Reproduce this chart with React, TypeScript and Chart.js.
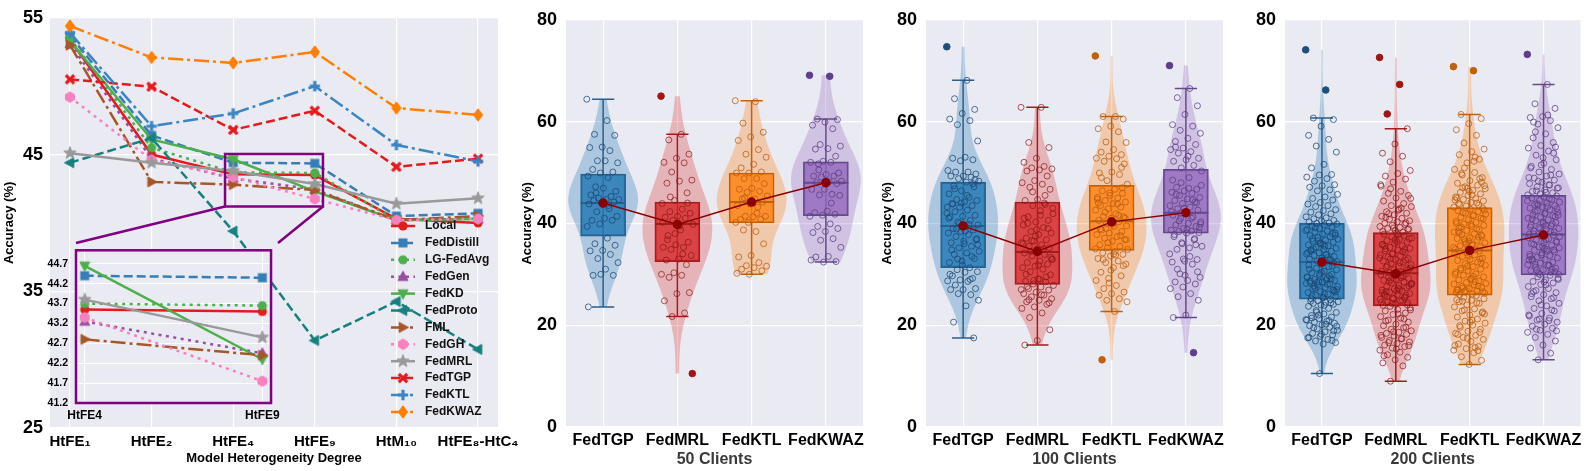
import React, { useEffect, useRef } from "react";
import { Chart, registerables } from "chart.js";

Chart.register(...registerables);

const FONT = '"Liberation Sans", Arial, Helvetica, sans-serif';
Chart.defaults.font.family = FONT;
Chart.defaults.color = "#000";

const BG = "#EAEAF2";
const GRID = "#FFFFFF";
const PURPLE = "#800080";

// ---------------- Panel 1 data ----------------
const HT_LABELS = ["HtFE₁", "HtFE₂", "HtFE₄", "HtFE₉", "HtM₁₀", "HtFE₈-HtC₄"];
const METHODS = ["Local", "FedDistill", "LG-FedAvg", "FedGen", "FedKD", "FedProto", "FML", "FedGH", "FedMRL", "FedTGP", "FedKTL", "FedKWAZ"];
const ACC_LOCAL = [53.4, 45.0, 43.55, 43.5, 40.3, 40.0];
const ACC_FEDDISTILL = [53.7, 46.4, 44.4, 44.35, 40.5, 40.7];
const ACC_LGFEDAVG = [53.5, 45.5, 43.7, 43.65, 40.2, 40.3];
const ACC_FEDGEN = [53.1, 44.7, 43.25, 42.45, 40.2, 40.3];
const ACC_FEDKD = [53.3, 46.1, 44.65, 42.3, 40.2, 40.3];
const ACC_FEDPROTO = [44.4, 46.2, 39.4, 31.4, 34.25, 30.75];
const ACC_FML = [53.0, 43.0, 42.8, 42.4, 40.2, 40.5];
const ACC_FEDGH = [49.2, 44.6, 43.35, 41.75, 40.2, 40.3];
const ACC_FEDMRL = [45.1, 44.4, 43.8, 42.85, 41.4, 41.8];
const ACC_FEDTGP = [50.5, 49.96, 46.8, 48.2, 44.1, 44.7];
const ACC_FEDKTL = [53.9, 47.07, 48.0, 50.0, 45.7, 44.5];
const ACC_FEDKWAZ = [54.4, 52.1, 51.7, 52.5, 48.4, 47.9];
const SERIES = [ACC_LOCAL, ACC_FEDDISTILL, ACC_LGFEDAVG, ACC_FEDGEN, ACC_FEDKD, ACC_FEDPROTO, ACC_FML, ACC_FEDGH, ACC_FEDMRL, ACC_FEDTGP, ACC_FEDKTL, ACC_FEDKWAZ];
const MAIN_Y_TICKS = [25, 35, 45, 55];

const INSET_X_LABELS = ["HtFE4", "HtFE9"];
const INSET_X_INDEX = [2, 3];
const INSET_Y_TICKS = [41.2, 41.7, 42.2, 42.7, 43.2, 43.7, 44.2, 44.7];
const INSET_Y_RANGE = [41.2, 45.04];
const ZOOM_X_RANGE = [1.9, 3.1];

// ---------------- Panels 2-4 data ----------------
const BOX_METHODS = ["FedTGP", "FedMRL", "FedKTL", "FedKWAZ"];

const C50_FEDTGP = [64.4, 60.2, 57.5, 57.3, 55.0, 54.9, 54.3, 52.3, 51.9, 52.3, 50.6, 50.1, 49.9, 49.3, 49.0, 47.2, 46.3, 46.9, 45.6, 45.3, 45.0, 44.7, 44.7, 44.5, 44.2, 44.0, 43.8, 42.9, 42.3, 41.4, 41.0, 40.6, 40.6, 39.9, 39.4, 37.1, 36.0, 35.7, 34.7, 34.6, 33.9, 33.1, 32.3, 31.0, 29.8, 29.8, 30.0, 23.6, 43.5, 46.0];
const C50_FEDMRL = [65.0, 57.5, 56.4, 53.6, 52.8, 52.0, 51.9, 50.1, 48.5, 48.3, 47.9, 46.0, 44.5, 43.9, 42.8, 42.3, 42.0, 41.4, 41.2, 41.0, 40.6, 39.8, 38.7, 37.6, 36.3, 35.8, 35.3, 35.3, 34.9, 33.7, 33.0, 32.8, 31.9, 30.3, 30.0, 29.8, 29.4, 26.4, 26.2, 24.8, 22.4, 21.7, 10.5, 39.5, 36.8, 44.0, 38.0, 40.2, 34.0, 45.2];
const C50_FEDKTL = [64.1, 63.9, 59.7, 57.9, 57.0, 56.3, 54.5, 53.6, 53.0, 51.6, 50.9, 50.1, 49.9, 49.9, 48.8, 48.8, 47.8, 46.9, 46.7, 46.3, 46.1, 45.4, 44.8, 44.8, 44.2, 43.8, 43.5, 43.2, 41.4, 41.4, 41.3, 40.8, 40.8, 40.2, 40.2, 38.4, 38.7, 36.0, 33.7, 33.4, 32.3, 31.7, 31.6, 31.3, 31.0, 30.7, 30.0, 30.2, 42.0, 45.0];
const C50_FEDKWAZ = [69.1, 68.9, 60.5, 60.4, 59.9, 59.3, 58.6, 55.5, 55.2, 54.7, 54.6, 53.2, 52.2, 52.0, 52.0, 51.7, 49.9, 49.6, 49.3, 49.3, 49.1, 48.3, 48.2, 48.0, 47.8, 46.7, 46.7, 45.7, 45.6, 45.5, 42.4, 42.1, 41.8, 41.6, 41.4, 39.9, 39.4, 39.0, 38.4, 38.2, 37.0, 36.7, 35.3, 33.5, 33.4, 32.5, 32.4, 32.8, 44.0, 50.5];
const C50_Q1 = [37.5, 32.5, 40.1, 41.5];
const C50_MEDIAN = [44.0, 39.9, 44.2, 48.0];
const C50_Q3 = [49.7, 44.2, 49.9, 52.1];
const C50_MEAN = [44.0, 39.8, 44.2, 48.0];

const C100_FEDTGP = [74.7, 68.1, 64.5, 62.4, 61.6, 60.5, 60.2, 59.4, 56.2, 53.0, 52.8, 52.5, 52.3, 50.4, 50.1, 50.1, 49.7, 49.3, 49.3, 49.1, 48.8, 48.3, 48.1, 47.4, 47.2, 46.4, 45.8, 45.1, 44.7, 44.5, 44.2, 43.9, 43.5, 43.2, 43.2, 42.6, 42.3, 41.6, 41.4, 41.3, 40.6, 40.3, 39.7, 39.4, 39.0, 38.7, 38.4, 38.1, 37.8, 37.4, 36.8, 36.5, 36.2, 35.5, 35.2, 34.5, 34.2, 33.9, 33.1, 32.6, 32.3, 31.3, 30.9, 30.5, 30.4, 29.7, 29.2, 28.9, 28.7, 28.6, 27.9, 27.2, 27.0, 27.0, 26.0, 26.2, 24.9, 23.8, 20.6, 17.5, 44.0, 41.0, 39.8, 38.9, 37.0, 36.0, 34.8, 33.5, 40.0, 42.0, 45.5, 46.8, 48.6, 31.8, 30.0, 29.0, 33.0, 35.8, 38.5, 43.8, 47.8];
const C100_FEDMRL = [62.8, 62.8, 55.9, 54.9, 52.8, 52.0, 51.2, 50.9, 50.7, 50.5, 50.3, 49.3, 48.4, 48.0, 47.7, 47.1, 46.7, 44.7, 44.5, 43.7, 43.5, 41.9, 41.6, 41.3, 40.6, 40.3, 39.7, 39.2, 38.4, 38.1, 37.8, 37.1, 36.8, 36.5, 36.2, 35.8, 35.5, 35.2, 34.9, 34.2, 33.9, 33.6, 32.9, 32.6, 32.3, 32.0, 31.6, 31.3, 31.0, 30.5, 29.9, 29.1, 28.6, 28.5, 28.1, 27.8, 27.5, 27.2, 26.9, 26.5, 26.2, 25.9, 25.6, 25.2, 24.9, 24.6, 24.1, 23.6, 23.3, 22.4, 21.5, 19.1, 17.0, 16.1, 45.5, 46.2, 43.0, 42.5, 40.0, 39.0, 37.5, 36.0, 35.0, 34.5, 33.3, 31.8, 30.0, 29.5, 28.8, 27.0, 26.0, 25.0, 24.4, 38.8, 41.0, 44.0, 36.6, 33.0, 29.0, 27.6];
const C100_FEDKTL = [72.9, 61.0, 61.0, 60.5, 59.1, 58.6, 58.0, 56.0, 55.9, 54.5, 54.0, 53.5, 53.2, 52.8, 52.7, 52.2, 51.7, 50.1, 49.9, 49.6, 48.4, 47.7, 46.7, 46.4, 45.9, 45.5, 45.1, 45.0, 44.5, 44.2, 43.9, 43.5, 43.2, 42.9, 42.6, 41.9, 41.4, 41.3, 41.0, 40.6, 40.3, 40.0, 39.5, 39.4, 38.7, 38.4, 38.1, 37.8, 37.4, 37.1, 36.8, 36.5, 35.8, 35.5, 35.2, 34.9, 34.5, 34.2, 33.9, 33.6, 33.1, 32.6, 32.3, 32.0, 31.3, 30.4, 29.7, 29.2, 28.8, 27.8, 27.2, 26.5, 26.2, 25.9, 25.2, 24.9, 24.6, 22.7, 13.2, 47.0, 46.0, 44.8, 43.8, 42.2, 41.0, 39.8, 38.9, 37.6, 36.2, 35.0, 33.8, 32.9, 31.7, 30.8, 44.0, 41.6, 39.0, 36.8, 34.0, 49.0, 51.0, 28.3];
const C100_FEDKWAZ = [71.0, 66.5, 64.7, 63.1, 61.4, 59.4, 59.1, 58.3, 57.7, 56.7, 56.1, 55.5, 54.8, 54.5, 54.1, 53.8, 52.8, 52.5, 52.2, 51.4, 50.9, 50.3, 49.0, 47.1, 46.7, 46.4, 46.1, 45.9, 45.5, 45.1, 44.8, 44.5, 44.2, 43.9, 43.5, 43.2, 42.9, 42.6, 41.9, 41.6, 41.3, 41.0, 40.3, 40.0, 39.7, 39.4, 39.0, 38.7, 38.5, 38.4, 38.2, 38.1, 37.4, 36.8, 36.2, 35.5, 35.2, 34.9, 32.9, 32.6, 32.4, 32.0, 30.1, 29.4, 28.8, 28.5, 28.1, 27.5, 27.2, 26.2, 25.6, 24.9, 22.0, 21.5, 14.6, 48.0, 47.5, 46.9, 45.7, 44.0, 43.0, 42.3, 41.0, 40.5, 39.2, 38.8, 37.8, 37.0, 36.0, 34.0, 33.5, 31.0, 30.5, 29.8, 48.5, 44.6, 42.0, 39.9, 53.2, 55.0, 35.8, 33.0];
const C100_Q1 = [31.3, 28.0, 34.7, 38.1];
const C100_MEDIAN = [39.5, 34.4, 40.4, 42.1];
const C100_Q3 = [48.1, 44.2, 47.5, 50.6];
const C100_MEAN = [39.5, 34.5, 40.3, 42.1];

const C200_FEDTGP = [74.1, 66.2, 60.7, 60.4, 59.1, 57.3, 56.5, 55.2, 54.0, 51.6, 50.9, 49.6, 49.5, 49.1, 48.8, 48.3, 47.6, 47.4, 47.1, 46.6, 46.4, 45.7, 45.2, 44.9, 44.6, 44.1, 43.8, 43.5, 43.3, 42.7, 42.5, 42.2, 41.9, 41.7, 41.3, 41.1, 40.9, 40.6, 40.5, 40.3, 40.1, 40.0, 39.9, 39.7, 39.5, 39.3, 39.0, 38.8, 38.5, 38.3, 38.1, 37.9, 37.6, 37.4, 37.2, 36.9, 36.7, 36.5, 36.3, 36.0, 35.8, 35.6, 35.3, 35.1, 34.9, 34.8, 34.5, 34.2, 34.0, 33.9, 33.7, 33.5, 33.2, 33.0, 32.8, 32.6, 32.5, 35.5, 37.0, 38.0, 36.1, 34.3, 33.3, 39.1, 37.7, 35.9, 34.6, 32.9, 36.6, 38.6, 33.8, 35.0, 32.3, 32.0, 31.8, 31.5, 31.2, 30.9, 30.6, 30.3, 30.0, 29.8, 29.5, 29.3, 29.0, 28.8, 28.5, 28.3, 28.1, 27.9, 27.6, 27.4, 27.2, 26.9, 26.6, 26.4, 26.1, 25.9, 25.6, 25.4, 25.2, 29.1, 28.6, 28.2, 28.9, 27.7, 26.8, 30.4, 31.0, 29.7, 28.4, 27.0, 26.2, 25.8, 31.6, 30.1, 29.4, 28.0, 27.3, 26.5, 25.5, 28.7, 25.0, 24.8, 24.6, 24.5, 24.3, 24.1, 24.0, 23.7, 23.3, 22.9, 22.5, 22.2, 21.9, 21.6, 21.3, 21.0, 20.8, 20.6, 20.4, 20.1, 19.9, 19.6, 19.3, 19.0, 18.7, 18.4, 18.1, 17.8, 17.5, 17.2, 16.9, 16.6, 16.3, 24.7, 24.4, 22.0, 21.1, 20.2, 19.5, 18.9, 18.2, 17.6, 20.9, 22.6, 19.8, 23.9, 21.4, 17.0, 10.5];
const C200_FEDMRL = [72.6, 67.3, 61.5, 58.6, 55.6, 53.8, 53.2, 52.1, 50.4, 49.8, 49.3, 48.7, 48.1, 47.6, 46.3, 45.9, 45.5, 45.0, 44.4, 43.9, 43.5, 43.3, 42.8, 42.3, 42.0, 41.7, 41.4, 41.0, 40.8, 40.5, 40.3, 40.0, 39.8, 39.6, 39.4, 39.2, 39.0, 38.8, 38.6, 38.4, 38.3, 46.8, 44.9, 42.6, 41.2, 40.1, 39.1, 47.3, 43.0, 41.9, 38.9, 38.1, 37.9, 37.6, 37.4, 37.1, 36.9, 36.6, 36.3, 36.1, 35.8, 35.6, 35.3, 35.1, 34.8, 34.6, 34.3, 34.1, 33.8, 33.6, 33.4, 33.1, 32.9, 32.6, 32.4, 32.1, 31.9, 31.6, 31.4, 31.1, 30.9, 30.6, 30.4, 30.3, 37.0, 36.4, 35.5, 34.9, 34.0, 33.2, 32.3, 31.7, 30.8, 36.8, 35.9, 34.4, 33.0, 31.2, 37.8, 35.0, 32.8, 30.1, 29.9, 29.7, 29.4, 29.2, 29.0, 28.8, 28.5, 28.3, 28.1, 27.8, 27.6, 27.4, 27.1, 26.9, 26.7, 26.5, 26.2, 26.0, 25.8, 25.5, 25.3, 25.1, 24.8, 24.6, 24.4, 24.1, 23.9, 29.6, 28.9, 28.0, 27.3, 26.6, 25.9, 25.2, 24.5, 29.3, 28.6, 27.7, 26.8, 26.1, 25.4, 24.3, 28.2, 27.0, 25.6, 24.0, 29.8, 26.4, 24.9, 23.7, 23.4, 23.1, 22.8, 22.4, 22.1, 21.7, 21.4, 21.0, 20.6, 20.2, 19.9, 19.5, 19.2, 18.9, 18.6, 18.4, 18.2, 17.9, 17.6, 17.3, 17.0, 16.7, 16.4, 16.1, 15.8, 15.5, 15.1, 14.7, 14.2, 13.7, 13.2, 12.6, 12.0, 9.0, 23.0, 22.2, 20.8, 19.6, 18.7, 18.0, 17.4, 16.6, 16.0, 15.3, 14.0, 21.2];
const C200_FEDKTL = [70.8, 70.0, 61.4, 60.6, 59.6, 58.4, 57.3, 55.8, 54.6, 54.1, 53.5, 52.6, 51.9, 50.6, 50.0, 49.5, 49.0, 48.4, 47.9, 47.5, 47.2, 46.8, 46.5, 46.1, 45.8, 45.5, 45.2, 44.9, 44.7, 44.4, 44.1, 43.9, 43.6, 43.4, 43.2, 52.2, 49.8, 48.1, 46.3, 45.0, 44.0, 50.9, 47.4, 45.6, 43.7, 48.8, 46.9, 44.6, 53.0, 47.0, 43.0, 42.8, 42.5, 42.3, 42.0, 41.8, 41.5, 41.2, 41.0, 40.7, 40.4, 40.2, 39.9, 39.6, 39.4, 39.1, 38.8, 38.6, 38.3, 38.0, 37.8, 37.5, 37.2, 37.0, 36.7, 36.4, 36.2, 35.9, 35.6, 35.4, 35.1, 34.9, 34.8, 42.1, 40.9, 39.8, 38.4, 37.3, 36.0, 35.3, 41.6, 39.3, 37.7, 36.5, 40.0, 38.9, 36.9, 42.6, 35.7, 38.2, 34.6, 34.3, 34.0, 33.8, 33.5, 33.2, 32.9, 32.7, 32.4, 32.1, 31.8, 31.5, 31.2, 31.0, 30.7, 30.4, 30.1, 29.8, 29.5, 29.2, 28.9, 28.7, 28.4, 28.1, 27.9, 27.6, 27.4, 27.2, 26.9, 26.7, 26.5, 26.3, 26.1, 26.0, 33.0, 31.6, 30.0, 28.5, 27.3, 26.6, 29.0, 27.0, 27.7, 26.8, 28.2, 29.6, 30.9, 32.2, 33.6, 26.4, 25.8, 25.5, 25.2, 24.9, 24.6, 24.3, 24.0, 23.6, 23.2, 22.8, 22.4, 22.0, 21.6, 21.2, 20.8, 20.4, 20.0, 19.6, 19.2, 18.8, 18.4, 18.0, 17.6, 17.2, 16.8, 16.3, 15.8, 15.4, 15.1, 14.6, 13.8, 13.1, 12.3, 25.0, 24.4, 23.0, 22.2, 21.0, 19.9, 18.6, 17.4, 16.0, 15.6, 24.7, 22.6, 20.6, 18.2, 15.0];
const C200_FEDKWAZ = [73.2, 67.3, 63.5, 62.6, 61.0, 60.8, 60.2, 59.5, 58.8, 57.6, 56.8, 55.9, 55.3, 54.8, 54.2, 53.4, 52.5, 51.8, 51.2, 50.6, 50.1, 49.7, 49.3, 48.9, 48.5, 48.1, 47.8, 47.5, 47.2, 46.9, 46.6, 46.3, 46.0, 45.8, 45.6, 61.3, 58.0, 55.0, 52.9, 50.9, 49.5, 48.3, 47.0, 46.1, 59.9, 53.8, 51.5, 49.0, 47.6, 46.4, 45.4, 45.2, 45.0, 44.7, 44.5, 44.2, 44.0, 43.7, 43.5, 43.2, 43.0, 42.7, 42.5, 42.2, 42.0, 41.7, 41.5, 41.2, 41.0, 40.7, 40.5, 40.2, 40.0, 39.7, 39.5, 39.2, 39.0, 38.8, 38.5, 38.3, 38.1, 37.9, 44.8, 43.9, 42.9, 41.9, 40.9, 39.9, 38.9, 44.4, 43.3, 42.3, 41.3, 40.3, 39.3, 38.4, 43.6, 41.6, 39.6, 37.95, 37.7, 37.5, 37.2, 37.0, 36.7, 36.5, 36.2, 36.0, 35.7, 35.4, 35.2, 34.9, 34.7, 34.4, 34.2, 33.9, 33.7, 33.4, 33.2, 32.9, 32.7, 32.4, 32.2, 31.9, 31.7, 31.4, 31.2, 30.9, 30.7, 30.4, 30.2, 30.0, 36.8, 35.9, 34.8, 33.8, 32.8, 31.8, 30.8, 36.3, 35.0, 33.0, 31.0, 29.95, 37.4, 34.5, 32.0, 30.5, 35.5, 33.5, 29.8, 29.5, 29.2, 28.9, 28.6, 28.3, 28.0, 27.6, 27.2, 26.8, 26.4, 26.0, 25.6, 25.2, 24.8, 24.3, 23.8, 23.3, 22.8, 22.3, 21.8, 21.4, 21.0, 20.6, 20.2, 19.8, 19.4, 19.0, 18.6, 18.2, 17.6, 16.9, 16.1, 15.5, 14.5, 13.2, 29.0, 27.9, 26.6, 25.4, 24.0, 22.0, 20.9, 19.2, 18.9, 28.5, 26.2, 23.0, 21.2];
const C200_Q1 = [25.1, 23.8, 25.9, 29.9];
const C200_MEDIAN = [32.4, 30.2, 34.7, 37.8];
const C200_Q3 = [40.0, 38.2, 43.1, 45.5];
const C200_MEAN = [32.4, 30.1, 34.7, 37.7];

// ---------------- Styles ----------------
const LINE_COLORS = ["#e41a1c", "#377eb8", "#4daf4a", "#984ea3", "#4daf4a", "#17807e", "#a65628", "#f781bf", "#999999", "#e41a1c", "#3a85c3", "#ff7f00"];
const DASHED = [9, 4];
const DOTTED = [3, 4.5];
const DASHDOT = [15, 4, 3, 4];
const LINE_DASHES = [[], DASHED, DOTTED, DOTTED, [], DASHED, DASHDOT, DOTTED, [], DASHED, DASHDOT, DASHDOT];
const LINE_MARKERS = ["circle", "square", "circle", "tri_up", "tri_down", "tri_left", "tri_right", "hexagon", "star", "x", "plus", "diamond"];

const BOX_FILL = ["rgba(31,119,180,0.8)", "rgba(214,39,40,0.8)", "rgba(255,127,14,0.8)", "rgba(148,103,189,0.8)"];
const VIOLIN_FILL = ["rgba(31,119,180,0.3)", "rgba(214,39,40,0.28)", "rgba(255,127,14,0.3)", "rgba(148,103,189,0.3)"];
const EDGE = ["#2b5f8c", "#a11d1e", "#bf6210", "#65498c"];
const PT_EDGE = ["rgba(25,70,115,0.75)", "rgba(140,20,20,0.7)", "rgba(185,90,10,0.75)", "rgba(90,60,130,0.75)"];
const OUT_FILL = ["#1f4e79", "#a01515", "#c0600a", "#5e3f8c"];
const MEAN_COLOR = "#8b0000";

function makeMarker(shape: string, color: string): HTMLCanvasElement {
  const s = 16;
  const c = document.createElement("canvas");
  c.width = s;
  c.height = s;
  const g = c.getContext("2d") as CanvasRenderingContext2D;
  g.translate(s / 2, s / 2);
  g.fillStyle = color;
  g.strokeStyle = color;
  g.lineWidth = 1;
  const poly = (pts: number[][]) => {
    g.beginPath();
    pts.forEach(([x, y], i) => (i ? g.lineTo(x, y) : g.moveTo(x, y)));
    g.closePath();
    g.fill();
    g.stroke();
  };
  const ring = (n: number, r: number, rot: number) => {
    const pts: number[][] = [];
    for (let k = 0; k < n; k++) {
      const a = rot + (k * 2 * Math.PI) / n;
      pts.push([r * Math.cos(a), r * Math.sin(a)]);
    }
    return pts;
  };
  switch (shape) {
    case "circle":
      g.beginPath();
      g.arc(0, 0, 4.6, 0, Math.PI * 2);
      g.fill();
      break;
    case "square":
      g.fillRect(-4.5, -4.5, 9, 9);
      break;
    case "tri_up":
      poly([[0, -5.5], [5, 3.8], [-5, 3.8]]);
      break;
    case "tri_down":
      poly([[0, 5.5], [5, -3.8], [-5, -3.8]]);
      break;
    case "tri_left":
      poly([[-5.5, 0], [3.8, -5], [3.8, 5]]);
      break;
    case "tri_right":
      poly([[5.5, 0], [-3.8, -5], [-3.8, 5]]);
      break;
    case "hexagon":
      poly(ring(6, 5.2, -Math.PI / 2));
      break;
    case "star": {
      const pts: number[][] = [];
      for (let k = 0; k < 10; k++) {
        const r = k % 2 === 0 ? 6.5 : 2.7;
        const a = -Math.PI / 2 + (k * Math.PI) / 5;
        pts.push([r * Math.cos(a), r * Math.sin(a)]);
      }
      poly(pts);
      break;
    }
    case "x":
      g.lineWidth = 3.2;
      g.beginPath();
      g.moveTo(-4.2, -4.2);
      g.lineTo(4.2, 4.2);
      g.moveTo(-4.2, 4.2);
      g.lineTo(4.2, -4.2);
      g.stroke();
      break;
    case "plus":
      g.lineWidth = 3.2;
      g.beginPath();
      g.moveTo(-5.2, 0);
      g.lineTo(5.2, 0);
      g.moveTo(0, -5.2);
      g.lineTo(0, 5.2);
      g.stroke();
      break;
    case "diamond":
      poly([[0, -6.2], [4.6, 0], [0, 6.2], [-4.6, 0]]);
      break;
  }
  return c;
}

const bgPlugin = {
  id: "bgPlot",
  beforeDraw(chart: any) {
    const { ctx, chartArea: a } = chart;
    ctx.save();
    ctx.fillStyle = BG;
    ctx.fillRect(a.left, a.top, a.right - a.left, a.bottom - a.top);
    ctx.restore();
  },
};

// layout constants (pixels)
const MAIN = { left: 0, top: 0, width: 530, height: 471 };
const INSET = { left: 0, top: 236, width: 285, height: 190, yW: 76, xH: 23, padTop: 7, padRight: 7 };
const LEGEND = { lineX0: 391, lineX1: 415, textX: 425, y0: 226, dy: 16.9 };
const PANELS = [
  { left: 510, width: 360, yW: 56, padRight: 7, title: "50 Clients" },
  { left: 870, width: 360, yW: 56, padRight: 7, title: "100 Clients" },
  { left: 1230, width: 356, yW: 55, padRight: 4, title: "200 Clients" },
];

function mainConfig(markers: HTMLCanvasElement[]) {
  const datasets = METHODS.map((m, i) => ({
    type: "line",
    label: m,
    data: SERIES[i].map((v, k) => ({ x: k, y: v })),
    borderColor: LINE_COLORS[i],
    backgroundColor: LINE_COLORS[i],
    borderWidth: 2.5,
    borderDash: LINE_DASHES[i],
    pointStyle: markers[i],
    pointRadius: 5,
    tension: 0,
    order: METHODS.length - i,
  }));
  const zoomPlugin = {
    id: "zoomRect",
    afterDatasetsDraw(chart: any) {
      const { ctx, scales } = chart;
      const x0 = scales.x.getPixelForValue(ZOOM_X_RANGE[0]);
      const x1 = scales.x.getPixelForValue(ZOOM_X_RANGE[1]);
      const yT = scales.y.getPixelForValue(INSET_Y_RANGE[1]);
      const yB = scales.y.getPixelForValue(INSET_Y_RANGE[0]);
      const iL = INSET.left + INSET.yW;
      const iR = INSET.left + INSET.width - INSET.padRight;
      const iT = INSET.top + INSET.padTop;
      ctx.save();
      ctx.strokeStyle = PURPLE;
      ctx.lineWidth = 2.5;
      ctx.strokeRect(x0, yT, x1 - x0, yB - yT);
      ctx.beginPath();
      ctx.moveTo(x0, yB);
      ctx.lineTo(iL, iT);
      ctx.moveTo(x1, yB);
      ctx.lineTo(iR, iT);
      ctx.stroke();
      ctx.restore();
    },
  };
  const legendPlugin = {
    id: "manualLegend",
    afterDraw(chart: any) {
      const ctx = chart.ctx;
      ctx.save();
      METHODS.forEach((m, i) => {
        const y = LEGEND.y0 + i * LEGEND.dy;
        ctx.strokeStyle = LINE_COLORS[i];
        ctx.lineWidth = 2.5;
        ctx.setLineDash(LINE_DASHES[i]);
        ctx.beginPath();
        ctx.moveTo(LEGEND.lineX0, y);
        ctx.lineTo(LEGEND.lineX1, y);
        ctx.stroke();
        ctx.setLineDash([]);
        const mk = markers[i];
        ctx.drawImage(mk, (LEGEND.lineX0 + LEGEND.lineX1) / 2 - mk.width / 2, y - mk.height / 2);
        ctx.fillStyle = "#111";
        ctx.font = "bold 12px " + FONT;
        ctx.textBaseline = "middle";
        ctx.textAlign = "left";
        ctx.fillText(m, LEGEND.textX, y);
      });
      ctx.restore();
    },
  };
  return {
    type: "line",
    data: { datasets },
    options: {
      responsive: false,
      animation: false,
      devicePixelRatio: 1,
      events: [],
      layout: { padding: { top: 13, right: 32, left: 0, bottom: 0 } },
      plugins: { legend: { display: false }, tooltip: { enabled: false } },
      scales: {
        x: {
          type: "linear",
          min: -0.245,
          max: 5.245,
          afterBuildTicks: (s: any) => {
            s.ticks = HT_LABELS.map((_, k) => ({ value: k }));
          },
          afterFit: (s: any) => {
            s.height = 43;
          },
          ticks: {
            callback: (v: any) => HT_LABELS[v],
            font: { size: 15, weight: "bold" },
            color: "#000",
            padding: 5,
            maxRotation: 0,
            autoSkip: false,
          },
          grid: { color: GRID, lineWidth: 1.2, drawTicks: false },
          border: { display: false },
          title: { display: true, text: "Model Heterogeneity Degree", font: { size: 13, weight: "bold" }, color: "#000", padding: { top: 0, bottom: 5 } },
        },
        y: {
          min: 25,
          max: 55,
          afterBuildTicks: (s: any) => {
            s.ticks = MAIN_Y_TICKS.map((v) => ({ value: v }));
          },
          afterFit: (s: any) => {
            s.width = 50;
          },
          ticks: { font: { size: 18, weight: "bold" }, color: "#000", padding: 7 },
          grid: { color: GRID, lineWidth: 1.2, drawTicks: false },
          border: { display: false },
          title: { display: true, text: "Accuracy (%)", font: { size: 13, weight: "bold" }, color: "#000", padding: { top: 2, bottom: 0 } },
        },
      },
    },
    plugins: [bgPlugin, zoomPlugin, legendPlugin],
  };
}

function insetConfig(markers: HTMLCanvasElement[]) {
  const datasets = METHODS.map((m, i) => ({
    type: "line",
    label: m,
    data: INSET_X_INDEX.map((k, j) => ({ x: j, y: SERIES[i][k] })),
    borderColor: LINE_COLORS[i],
    backgroundColor: LINE_COLORS[i],
    borderWidth: 2.5,
    borderDash: LINE_DASHES[i],
    pointStyle: markers[i],
    pointRadius: 5,
    tension: 0,
    order: METHODS.length - i,
  }));
  const borderPlugin = {
    id: "insetBorder",
    afterDraw(chart: any) {
      const { ctx, chartArea: a } = chart;
      ctx.save();
      ctx.strokeStyle = PURPLE;
      ctx.lineWidth = 2.5;
      ctx.strokeRect(a.left, a.top, a.right - a.left, a.bottom - a.top);
      ctx.restore();
    },
  };
  return {
    type: "line",
    data: { datasets },
    options: {
      responsive: false,
      animation: false,
      devicePixelRatio: 1,
      events: [],
      layout: { padding: { top: INSET.padTop, right: INSET.padRight, left: 0, bottom: 0 } },
      plugins: { legend: { display: false }, tooltip: { enabled: false } },
      scales: {
        x: {
          type: "linear",
          min: -0.049,
          max: 1.049,
          afterBuildTicks: (s: any) => {
            s.ticks = INSET_X_LABELS.map((_, k) => ({ value: k }));
          },
          afterFit: (s: any) => {
            s.height = INSET.xH;
          },
          ticks: { callback: (v: any) => INSET_X_LABELS[v], font: { size: 12, weight: "bold" }, color: "#000", padding: 5, maxRotation: 0, autoSkip: false },
          grid: { color: GRID, lineWidth: 1, drawTicks: false },
          border: { display: false },
        },
        y: {
          min: INSET_Y_RANGE[0],
          max: INSET_Y_RANGE[1],
          afterBuildTicks: (s: any) => {
            s.ticks = INSET_Y_TICKS.map((v) => ({ value: v }));
          },
          afterFit: (s: any) => {
            s.width = INSET.yW;
          },
          ticks: { callback: (v: any) => Number(v).toFixed(1), font: { size: 10.5, weight: "bold" }, color: "#000", padding: 8 },
          grid: { color: GRID, lineWidth: 1, drawTicks: false },
          border: { display: false },
        },
      },
    },
    plugins: [bgPlugin, borderPlugin],
  };
}

function kde(values: number[], n = 120) {
  const N = values.length;
  const mean = values.reduce((a, b) => a + b, 0) / N;
  const sd = Math.sqrt(values.reduce((a, b) => a + (b - mean) * (b - mean), 0) / (N - 1));
  const bw = sd * Math.pow(N, -0.2);
  const lo = Math.min(...values);
  const hi = Math.max(...values);
  const pts: number[][] = [];
  for (let k = 0; k <= n; k++) {
    const y = lo + ((hi - lo) * k) / n;
    let d = 0;
    for (const v of values) {
      const z = (y - v) / bw;
      d += Math.exp(-0.5 * z * z);
    }
    pts.push([y, d]);
  }
  const mx = Math.max(...pts.map((p) => p[1]));
  return pts.map(([y, d]) => [y, d / mx]);
}

const jitter = (j: number) => (((j * 0.6180339887) % 1) - 0.5) * 0.44;
const VIOLIN_HALF = 0.47;
const CAP_HALF = 0.15;
const BOX_PX = 45;

function panelConfig(title: string, groups: number[][], q1: number[], med: number[], q3: number[], mean: number[], yW: number, padRight: number) {
  const whiskers = groups.map((vals, i) => {
    const iqr = q3[i] - q1[i];
    const loLim = q1[i] - 1.5 * iqr;
    const hiLim = q3[i] + 1.5 * iqr;
    const inside = vals.filter((v) => v >= loLim && v <= hiLim);
    return { lo: Math.min(...inside), hi: Math.max(...inside), loLim, hiLim };
  });
  const dens = groups.map((g) => kde(g));
  const datasets: any[] = [];
  datasets.push({
    type: "bar",
    data: groups.map((_, i) => ({ x: i, y: [q1[i], q3[i]] })),
    backgroundColor: BOX_FILL,
    borderColor: EDGE,
    borderWidth: 1.5,
    borderSkipped: false,
    barThickness: BOX_PX,
    order: 10,
  });
  groups.forEach((vals, i) => {
    const w = whiskers[i];
    const inl: any[] = [];
    const out: any[] = [];
    vals.forEach((v, j) => {
      const p = { x: i + jitter(j), y: v };
      if (v < w.loLim || v > w.hiLim) out.push(p);
      else inl.push(p);
    });
    datasets.push({
      type: "scatter",
      data: inl,
      pointRadius: 3,
      pointBorderWidth: 1,
      pointBackgroundColor: "rgba(0,0,0,0)",
      pointBorderColor: PT_EDGE[i],
      order: 5,
    });
    datasets.push({
      type: "scatter",
      data: out,
      pointRadius: 3.3,
      pointBorderWidth: 1,
      pointBackgroundColor: OUT_FILL[i],
      pointBorderColor: OUT_FILL[i],
      order: 4,
    });
  });
  datasets.push({
    type: "line",
    data: mean.map((m, i) => ({ x: i, y: m })),
    borderColor: MEAN_COLOR,
    borderWidth: 1.5,
    pointRadius: 4,
    pointBackgroundColor: MEAN_COLOR,
    pointBorderColor: MEAN_COLOR,
    tension: 0,
    order: 1,
  });

  const violinPlugin = {
    id: "violins",
    beforeDatasetsDraw(chart: any) {
      const { ctx, scales } = chart;
      const xs = scales.x;
      const ys = scales.y;
      ctx.save();
      dens.forEach((d, i) => {
        ctx.fillStyle = VIOLIN_FILL[i];
        ctx.beginPath();
        d.forEach(([y, w], k) => {
          const px = xs.getPixelForValue(i + w * VIOLIN_HALF);
          const py = ys.getPixelForValue(y);
          if (k === 0) ctx.moveTo(px, py);
          else ctx.lineTo(px, py);
        });
        for (let k = d.length - 1; k >= 0; k--) {
          const [y, w] = d[k];
          ctx.lineTo(xs.getPixelForValue(i - w * VIOLIN_HALF), ys.getPixelForValue(y));
        }
        ctx.closePath();
        ctx.fill();
      });
      whiskers.forEach((w, i) => {
        const xc = xs.getPixelForValue(i);
        const xl = xs.getPixelForValue(i - CAP_HALF);
        const xr = xs.getPixelForValue(i + CAP_HALF);
        const yl = ys.getPixelForValue(w.lo);
        const yh = ys.getPixelForValue(w.hi);
        ctx.strokeStyle = EDGE[i];
        ctx.lineWidth = 1.5;
        ctx.beginPath();
        ctx.moveTo(xc, yl);
        ctx.lineTo(xc, yh);
        ctx.moveTo(xl, yl);
        ctx.lineTo(xr, yl);
        ctx.moveTo(xl, yh);
        ctx.lineTo(xr, yh);
        ctx.stroke();
      });
      ctx.restore();
    },
    afterDatasetDraw(chart: any, args: any) {
      if (args.index !== 0) return;
      const { ctx, scales } = chart;
      ctx.save();
      med.forEach((m, i) => {
        const xc = scales.x.getPixelForValue(i);
        const y = scales.y.getPixelForValue(m);
        ctx.strokeStyle = EDGE[i];
        ctx.lineWidth = 2;
        ctx.beginPath();
        ctx.moveTo(xc - BOX_PX / 2, y);
        ctx.lineTo(xc + BOX_PX / 2, y);
        ctx.stroke();
      });
      ctx.restore();
    },
  };

  return {
    type: "scatter",
    data: { datasets },
    options: {
      responsive: false,
      animation: false,
      devicePixelRatio: 1,
      events: [],
      layout: { padding: { top: 12, right: padRight, left: 0, bottom: 0 } },
      plugins: { legend: { display: false }, tooltip: { enabled: false } },
      scales: {
        x: {
          type: "linear",
          min: -0.5,
          max: 3.5,
          offset: false,
          afterBuildTicks: (s: any) => {
            s.ticks = BOX_METHODS.map((_, k) => ({ value: k }));
          },
          afterFit: (s: any) => {
            s.height = 44;
          },
          ticks: { callback: (v: any) => BOX_METHODS[v], font: { size: 16, weight: "bold" }, color: "#000", padding: 4, maxRotation: 0, autoSkip: false },
          grid: { color: GRID, lineWidth: 1.2, drawTicks: false, offset: false },
          border: { display: false },
          title: { display: true, text: title, font: { size: 16, weight: "bold" }, color: "#3a3a3a", padding: { top: 0, bottom: 2 } },
        },
        y: {
          min: 0,
          max: 80,
          afterBuildTicks: (s: any) => {
            s.ticks = [0, 20, 40, 60, 80].map((v) => ({ value: v }));
          },
          afterFit: (s: any) => {
            s.width = yW;
          },
          ticks: { font: { size: 18, weight: "bold" }, color: "#000", padding: 9 },
          grid: { color: GRID, lineWidth: 1.2, drawTicks: false },
          border: { display: false },
          title: { display: true, text: "Accuracy (%)", font: { size: 13, weight: "bold" }, color: "#000", padding: { top: 10, bottom: 0 } },
        },
      },
    },
    plugins: [bgPlugin, violinPlugin],
  };
}

function ChartCanvas(props: { left: number; top: number; width: number; height: number; make: () => any }) {
  const ref = useRef<HTMLCanvasElement | null>(null);
  useEffect(() => {
    const chart = new Chart(ref.current as HTMLCanvasElement, props.make());
    return () => chart.destroy();
  }, []);
  return (
    <canvas
      ref={ref}
      width={props.width}
      height={props.height}
      style={{ position: "absolute", left: props.left, top: props.top, width: props.width, height: props.height }}
    />
  );
}

const GROUPS = [
  { data: [C50_FEDTGP, C50_FEDMRL, C50_FEDKTL, C50_FEDKWAZ], q1: C50_Q1, med: C50_MEDIAN, q3: C50_Q3, mean: C50_MEAN },
  { data: [C100_FEDTGP, C100_FEDMRL, C100_FEDKTL, C100_FEDKWAZ], q1: C100_Q1, med: C100_MEDIAN, q3: C100_Q3, mean: C100_MEAN },
  { data: [C200_FEDTGP, C200_FEDMRL, C200_FEDKTL, C200_FEDKWAZ], q1: C200_Q1, med: C200_MEDIAN, q3: C200_Q3, mean: C200_MEAN },
];

export default function App() {
  useEffect(() => {
    document.body.style.margin = "0";
    document.body.style.background = "#fff";
  }, []);
  const markers = LINE_MARKERS.map((s, i) => makeMarker(s, LINE_COLORS[i]));
  return (
    <div style={{ position: "fixed", left: 0, top: 0, width: 1586, height: 471, background: "#fff", overflow: "hidden" }}>
      <ChartCanvas left={MAIN.left} top={MAIN.top} width={MAIN.width} height={MAIN.height} make={() => mainConfig(markers)} />
      <ChartCanvas left={INSET.left} top={INSET.top} width={INSET.width} height={INSET.height} make={() => insetConfig(markers)} />
      {PANELS.map((p, k) => (
        <ChartCanvas
          key={k}
          left={p.left}
          top={0}
          width={p.width}
          height={471}
          make={() => panelConfig(p.title, GROUPS[k].data, GROUPS[k].q1, GROUPS[k].med, GROUPS[k].q3, GROUPS[k].mean, p.yW, p.padRight)}
        />
      ))}
    </div>
  );
}
